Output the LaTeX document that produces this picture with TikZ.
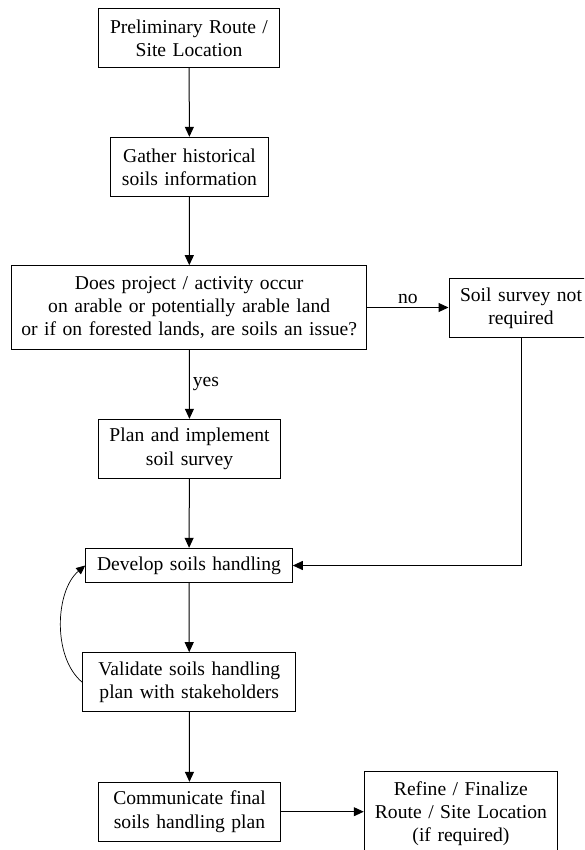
\documentclass[tikz,border=0pt]{standalone}
\usepackage{fontspec}
\setmainfont{Liberation Serif}
\usetikzlibrary{arrows.meta}
\newcommand\flowfont{\fontsize{19.6}{23.3}\selectfont}
\begin{document}
\begin{tikzpicture}[x=1pt, y=-1pt,
  box/.style={draw, line width=1pt, inner sep=0pt, align=center, font=\flowfont},
  link/.style={line width=1pt, -{Triangle[length=10pt, width=9pt]}},
  tag/.style={font=\flowfont, inner sep=3pt}]
  \useasboundingbox (0,0) rectangle (584,850);
  \clip (0,0) rectangle (584,850);
  \fill[white] (0,0) rectangle (584,850);

  % main column of steps
  \node[box, text width=181pt, minimum height=59.4pt] (route) at (189,38)
    {Preliminary Route /\\Site Location};
  \node[box, text width=157.6pt, minimum height=59.4pt] (gather) at (189.5,167)
    {Gather historical\\soils information};
  \node[box, text width=355pt, minimum height=83.6pt] (question) at (189.2,307.5)
    {Does project / activity occur\\on arable or potentially arable land\\or if on forested lands, are soils an issue?};
  \node[box, text width=144pt, minimum height=58.7pt] (nosurvey) at (521,308.3)
    {Soil survey not\\required};
  \node[box, text width=182.4pt, minimum height=59pt] (survey) at (189.5,448.8)
    {Plan and implement\\soil survey};
  \node[box, text width=206.6pt, minimum height=34.4pt] (develop) at (189,565.5)
    {Develop soils handling};
  \node[box, text width=213.3pt, minimum height=59pt] (validate) at (189.3,682.2)
    {Validate soils handling\\plan with stakeholders};
  \node[box, text width=182.4pt, minimum height=58.7pt] (communicate) at (189.5,811.7)
    {Communicate final\\soils handling plan};
  \node[box, text width=193.3pt, minimum height=85pt] (refine) at (460.9,813.5)
    {Refine / Finalize\\Route / Site Location\\(if required)};

  % connectors
  \draw[link] (route) -- (gather);
  \draw[link] (gather) -- (question);
  \draw[link] (question.east) -- node[tag, above] {no} (question.east -| nosurvey.west);
  \draw[link] (question) -- node[tag, right] {yes} (survey);
  \draw[link] (survey) -- (develop);
  \draw[link] (nosurvey.south) |- (develop.east);
  \draw[link] (develop) -- (validate);
  \draw[link] (validate) -- (communicate);
  \draw[link] (communicate.east) -- (communicate.east -| refine.west);

  % feedback loop from validation back to development
  \draw[line width=0.7pt, -{Triangle[length=9pt, width=8pt]}]
    (validate.west) .. controls +(-30,-25) and +(-30,25) .. (develop.west);
\end{tikzpicture}
\end{document}
